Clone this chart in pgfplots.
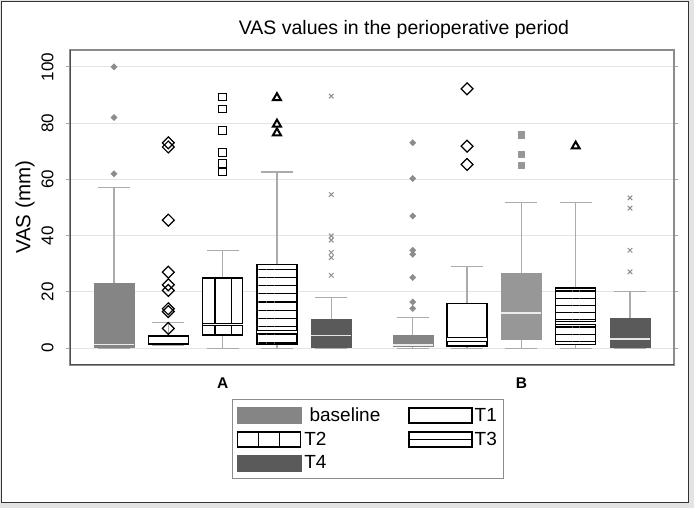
\documentclass[border=0pt]{standalone}
\usepackage{fontspec}
\setmainfont{Liberation Sans}
\usepackage{pgfplots}
\pgfplotsset{compat=1.18}
\usepgfplotslibrary{statistics}
\usetikzlibrary{patterns.meta}
\definecolor{basegray}{HTML}{858585}
\definecolor{t4gray}{HTML}{5A5A5A}
\definecolor{btwogray}{HTML}{979797}
\definecolor{whisk}{HTML}{ABABAB}
\definecolor{gridc}{HTML}{E4E4E4}
\definecolor{markgray}{HTML}{8C8C8C}
\begin{document}
\begin{tikzpicture}[x=1pt,y=1pt]
\path[use as bounding box] (0,0) rectangle (694,508);
\fill[gray!22] (0,0) rectangle (694,508);
\fill[white] (1.5,5.3) rectangle (688.3,506.5);
\draw[black!80, line width=1.5pt] (1.5,5.3) rectangle (688.3,506.5);
\node[font=\fontsize{19.5}{22}\selectfont, anchor=base] at (404,473) {VAS values in the perioperative period};
\begin{axis}[
  at={(70pt,143pt)}, anchor=south west,
  scale only axis, width=604pt, height=315pt,
  xmin=-0.81, xmax=10.31, ymin=-6, ymax=106,
  ytick={0,20,40,60,80,100},
  xtick={2,7.5}, xticklabels={\textbf{A},\textbf{B}},
  tick align=outside, major tick length=4pt,
  ytick style={draw=black!35, line width=1pt},
  xtick style={draw=none},
  ymajorgrids, grid style={gridc, line width=1.2pt},
  axis line style={draw=black!45, line width=1.2pt},
  /pgf/number format/assume math mode=true,
  yticklabel style={font=\fontsize{17}{17}\selectfont, rotate=90, anchor=south},
  yticklabel shift=9pt,
  xticklabel style={font=\fontsize{15.5}{16}\selectfont, yshift=-5pt},
  ylabel={VAS (mm)},
  ylabel style={font=\fontsize{20.5}{21}\selectfont, at={(axis description cs:-0.0745,0.5)}, anchor=center},
  legend columns=2,
  legend cell align=left,
  legend style={at={(0.2677,-0.109)}, anchor=north west, draw=black!45, line width=1pt,
    font=\fontsize{19}{20}\selectfont, inner xsep=5pt, inner ysep=6pt, row sep=5pt,
    nodes={inner sep=2pt},
    /tikz/every even column/.append style={column sep=26pt}},
  boxplot/draw direction=y,
  boxplot/box extend=0.737,
]
% ---------- legend ----------
\addlegendimage{legend image code/.code={\fill[basegray] (0pt,-8pt) rectangle (64pt,8pt);}}
\addlegendentry{\ baseline}
\addlegendimage{legend image code/.code={\draw[black, line width=1.3pt, fill=white] (0pt,-7.5pt) rectangle (63pt,7.5pt);}}
\addlegendentry{T1\hspace{10pt}}
\addlegendimage{legend image code/.code={\draw[black, line width=1.3pt, fill=white] (0pt,-7.5pt) rectangle (63pt,7.5pt); \draw[black, line width=1.3pt] (21pt,-7.5pt) -- (21pt,7.5pt) (42pt,-7.5pt) -- (42pt,7.5pt);}}
\addlegendentry{T2}
\addlegendimage{legend image code/.code={\draw[black, line width=1.3pt, fill=white] (0pt,-7.5pt) rectangle (63pt,7.5pt); \draw[black, line width=1.3pt] (0pt,0pt) -- (63pt,0pt);}}
\addlegendentry{T3}
\addlegendimage{legend image code/.code={\fill[t4gray] (0pt,-8pt) rectangle (64pt,8pt);}}
\addlegendentry{T4}
% ---------- group A ----------
% baseline
\addplot[forget plot, boxplot prepared={draw position=0, lower whisker=0, lower quartile=0.5, median=1.3, upper quartile=23, upper whisker=57},
  draw=basegray, fill=basegray, mark=square*, mark size=2.2, mark options={rotate=45, fill=markgray, draw=markgray},
  boxplot/every whisker/.style={draw=whisk, line width=1.2pt},
  boxplot/every median/.style={draw=white!85!gray, line width=1.3pt}]
  table[row sep=\\, y index=0] {data\\ 100\\ 82\\ 62\\};
% T1
\addplot[forget plot, boxplot prepared={draw position=1, lower whisker=0.8, lower quartile=1.3, median=1.5, upper quartile=4.3, upper whisker=9.1},
  draw=black, line width=1.4pt, boxplot/every box/.style={fill=white},
  mark=square, mark size=4.2, mark options={rotate=45, fill=white, draw=black, line width=1.2pt},
  boxplot/every whisker/.style={draw=whisk, line width=1.2pt},
  boxplot/every median/.style={draw=black, line width=1.2pt}]
  table[row sep=\\, y index=0] {data\\ 73\\ 71.5\\ 45.5\\ 27\\ 22.5\\ 20.5\\ 14\\ 13\\ 7\\};
% T2
\addplot[forget plot, boxplot prepared={draw position=2, lower whisker=0, lower quartile=4.6, median=8.3, upper quartile=25, upper whisker=34.7},
  draw=black, line width=1.4pt,
  boxplot/every box/.style={preaction={fill=white}, pattern={Lines[angle=90, distance=16.7pt, xshift=14.6pt, line width=1.3pt]}},
  mark=square, mark size=3.8, mark options={fill=white, draw=black, line width=1.2pt},
  boxplot/every whisker/.style={draw=whisk, line width=1.2pt},
  boxplot/every median/.style={draw=black, double=white, double distance=1.2pt, line width=1.1pt}]
  table[row sep=\\, y index=0] {data\\ 89.3\\ 85\\ 77.4\\ 69.5\\ 65.6\\ 62.6\\};
% T3
\addplot[forget plot, boxplot prepared={draw position=3, lower whisker=0, lower quartile=1.3, median=5.6, upper quartile=29.7, upper whisker=62.6},
  draw=black, line width=1.4pt,
  boxplot/every box/.style={preaction={fill=white}, pattern={Lines[angle=0, distance=8.2pt, yshift=1pt, line width=1.3pt]}},
  mark=triangle, mark size=4.6, mark options={fill=white, draw=black, line width=2pt},
  boxplot/every whisker/.style={draw=whisk, line width=1.2pt},
  boxplot/every median/.style={draw=black, double=white, double distance=2pt, line width=1.1pt}]
  table[row sep=\\, y index=0] {data\\ 89\\ 79.6\\ 76.5\\};
% T4
\addplot[forget plot, boxplot prepared={draw position=4, lower whisker=0, lower quartile=0.5, median=4.5, upper quartile=10.2, upper whisker=18},
  draw=t4gray, fill=t4gray, mark=x, mark size=3.2, mark options={draw=markgray, line width=1pt},
  boxplot/every whisker/.style={draw=whisk, line width=1.2pt},
  boxplot/every median/.style={draw=white!80!gray, line width=1.3pt}]
  table[row sep=\\, y index=0] {data\\ 89.6\\ 54.6\\ 39.9\\ 38.4\\ 34\\ 32.2\\ 25.9\\};
% ---------- group B ----------
% baseline
\addplot[forget plot, boxplot prepared={draw position=5.5, lower whisker=0, lower quartile=0.8, median=1.1, upper quartile=4.6, upper whisker=11},
  draw=basegray, fill=basegray, mark=square*, mark size=2.2, mark options={rotate=45, fill=markgray, draw=markgray},
  boxplot/every whisker/.style={draw=whisk, line width=1.2pt},
  boxplot/every median/.style={draw=white!85!gray, line width=1.3pt}]
  table[row sep=\\, y index=0] {data\\ 73\\ 60.3\\ 47\\ 34.8\\ 33.4\\ 25.1\\ 16.4\\ 14.1\\};
% T1
\addplot[forget plot, boxplot prepared={draw position=6.5, lower whisker=0, lower quartile=0.7, median=3, upper quartile=15.9, upper whisker=28.9},
  draw=black, line width=1.4pt, boxplot/every box/.style={fill=white},
  mark=square, mark size=4.2, mark options={rotate=45, fill=white, draw=black, line width=1.2pt},
  boxplot/every whisker/.style={draw=whisk, line width=1.2pt},
  boxplot/every median/.style={draw=black, double=white, double distance=3pt, line width=1.2pt}]
  table[row sep=\\, y index=0] {data\\ 92.2\\ 71.8\\ 65.3\\};
% T2
\addplot[forget plot, boxplot prepared={draw position=7.5, lower whisker=0, lower quartile=3.3, median=12.5, upper quartile=26.5, upper whisker=51.8},
  draw=btwogray, fill=btwogray, mark=square*, mark size=3.3, mark options={fill=btwogray, draw=btwogray},
  boxplot/every whisker/.style={draw=whisk, line width=1.2pt},
  boxplot/every median/.style={draw=white!85!gray, line width=1.5pt}]
  table[row sep=\\, y index=0] {data\\ 75.9\\ 69\\ 65.1\\};
% T3
\addplot[forget plot, boxplot prepared={draw position=8.5, lower whisker=0, lower quartile=1.2, median=9, upper quartile=21.4, upper whisker=51.8},
  draw=black, line width=1.4pt,
  boxplot/every box/.style={preaction={fill=white}, pattern={Lines[angle=0, distance=7.2pt, yshift=1pt, line width=1.3pt]}},
  mark=triangle, mark size=4.6, mark options={fill=white, draw=black, line width=2pt},
  boxplot/every whisker/.style={draw=whisk, line width=1.2pt},
  boxplot/every median/.style={draw=black, double=white, double distance=2pt, line width=1.1pt}]
  table[row sep=\\, y index=0] {data\\ 71.8\\};
% T4
\addplot[forget plot, boxplot prepared={draw position=9.5, lower whisker=0, lower quartile=0.5, median=3.2, upper quartile=10.5, upper whisker=20},
  draw=t4gray, fill=t4gray, mark=x, mark size=3.2, mark options={draw=markgray, line width=1pt},
  boxplot/every whisker/.style={draw=whisk, line width=1.2pt},
  boxplot/every median/.style={draw=white!80!gray, line width=1.3pt}]
  table[row sep=\\, y index=0] {data\\ 53.4\\ 49.8\\ 34.8\\ 27.1\\};
\draw[black!70, line width=1.4pt] (rel axis cs:0,1) -- (rel axis cs:0,0) -- (rel axis cs:1,0);
\end{axis}
\end{tikzpicture}
\end{document}
